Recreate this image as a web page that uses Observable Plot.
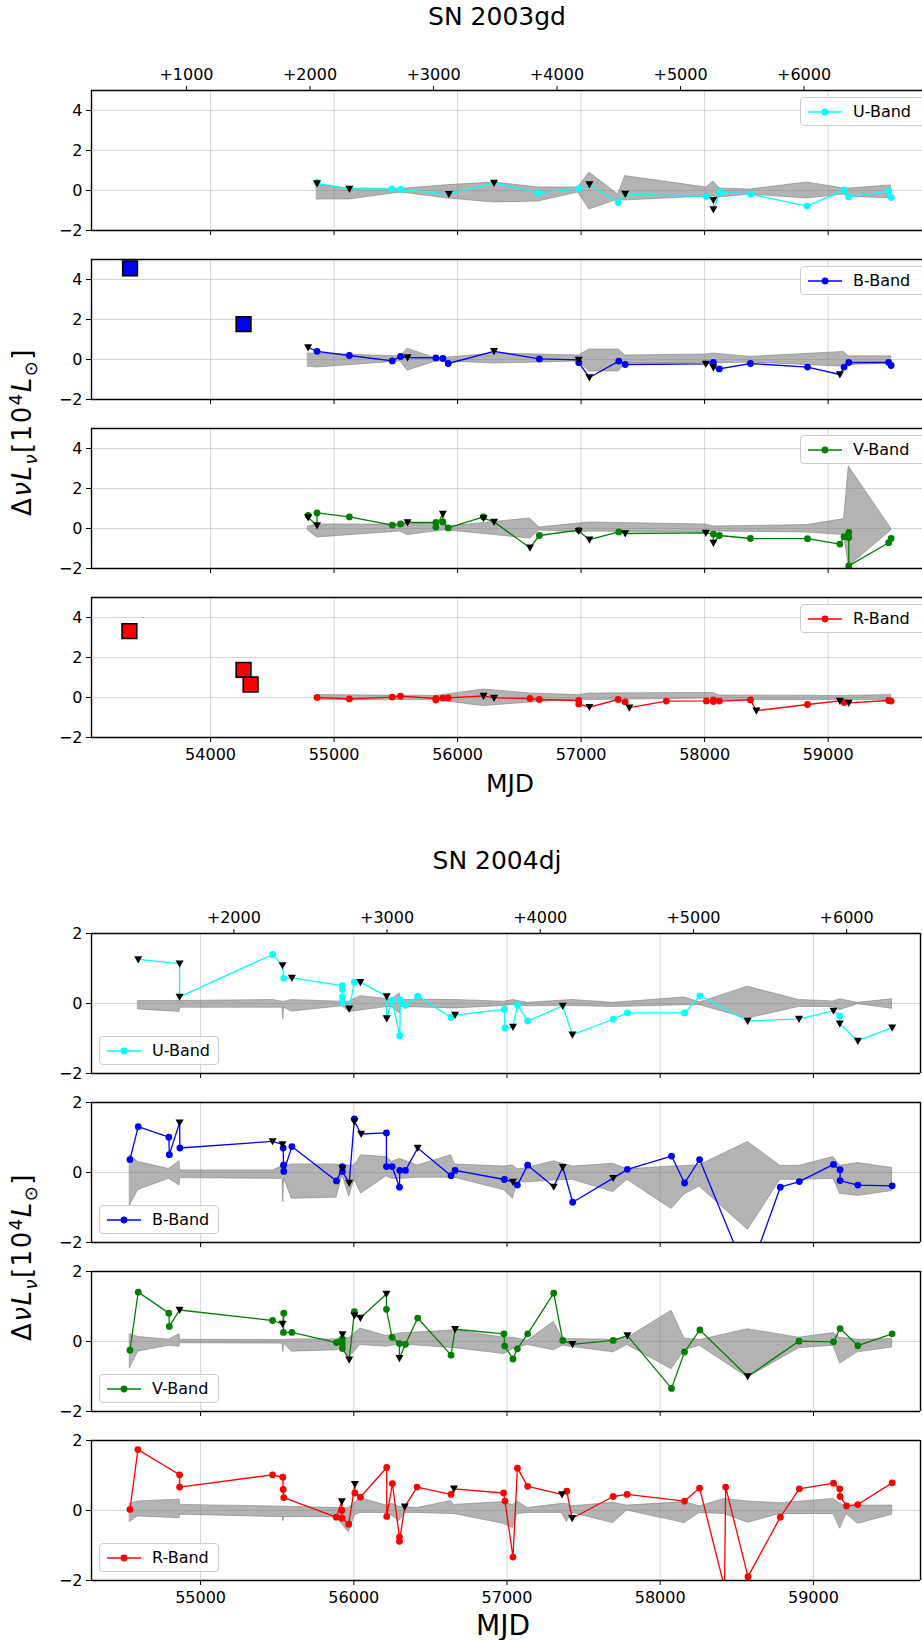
<!DOCTYPE html>
<html>
<head>
<meta charset="utf-8">
<script src="https://cdn.jsdelivr.net/npm/d3@7"></script>
<script src="https://cdn.jsdelivr.net/npm/@observablehq/plot@0.6"></script>
<style>
  body { margin: 0; background: #fff; }
  #fig { position: relative; width: 922px; height: 1640px; overflow: hidden; font-family: "DejaVu Sans", sans-serif; color: #000; }
  .panel { position: absolute; left: 0; }
  .title { position: absolute; transform: translate(-50%, -50%); white-space: nowrap; }
  .ylab { position: absolute; transform: translate(-50%, -50%) rotate(-90deg); white-space: nowrap; font-size: 26px; letter-spacing: 1.5px; }
  .ylab sub, .ylab sup { font-size: 18px; }
  .legend { position: absolute; border: 1px solid #cccccc; border-radius: 4px; background: rgba(255,255,255,0.8); display: flex; align-items: center; font-size: 16px; box-sizing: border-box; }
  .legend svg { display: block; margin: 0 10px 0 6px; }
</style>
</head>
<body>
<div id="fig"></div>
<script>
// ---------- SN 2003gd: [MJD, ΔνLν (1e4 Lsun), upper limit 0/1] ----------
const gdU = [
  [54862, 0.42, 0], [54862, 0.35, 1], [55124, 0.08, 1], [55467, 0.08, 0], [55538, 0.05, 0],
  [55929, -0.18, 1], [56295, 0.38, 1], [56652, -0.12, 0], [56976, 0.08, 0], [57067, 0.3, 1],
  [57300, -0.6, 0], [57357, -0.17, 1], [58014, -0.3, 0], [58071, -0.48, 1], [58071, -0.95, 1],
  [58124, -0.1, 0], [58371, -0.18, 0], [58829, -0.78, 0], [59129, 0.03, 0], [59167, -0.32, 0],
  [59490, -0.03, 0], [59510, -0.35, 0]
];
const gdUband = [
  [54862, -0.45, 0.27], [55124, -0.45, 0.1], [55538, -0.1, 0.08], [55929, -0.4, 0.27],
  [56295, -0.6, 0.4], [56652, -0.55, 0.15], [56976, -0.1, 0.15], [57067, -0.95, 0.9],
  [57300, -0.45, -0.2], [57357, -0.5, 0.72], [58014, -0.3, 0.15], [58071, -0.3, 0.45],
  [58124, -0.35, 0.1], [58371, -0.2, 0.05], [58829, -0.4, 0.4], [59129, -0.2, 0.1],
  [59167, -0.3, 0.1], [59510, -0.4, 0.25]
];
const gdB = [
  [54790, 0.6, 1], [54862, 0.41, 0], [55124, 0.2, 0], [55471, -0.07, 0], [55538, 0.15, 0],
  [55595, 0.1, 1], [55824, 0.08, 0], [55881, 0.05, 0], [55924, -0.2, 0], [56295, 0.41, 1],
  [56662, 0.03, 0], [56981, -0.02, 1], [56981, -0.16, 0], [57067, -0.9, 1], [57305, -0.08, 0],
  [57357, -0.25, 0], [58010, -0.22, 1], [58071, -0.15, 0], [58071, -0.4, 1], [58119, -0.47, 0],
  [58371, -0.2, 0], [58833, -0.38, 0], [59095, -0.75, 1], [59129, -0.38, 0], [59167, -0.15, 0],
  [59490, -0.15, 0], [59510, -0.3, 0]
];
const gdBband = [
  [54790, -0.36, 0.3], [54862, -0.4, 0.3], [55538, -0.1, 0.15], [55595, -0.56, 0.54],
  [55824, -0.1, 0.05], [55924, -0.1, 0.1], [56295, -0.2, 0.3], [56981, -0.1, 0.2],
  [57067, -0.6, 0.5], [57305, -0.6, 0.5], [57357, -0.2, 0.2], [58010, -0.2, 0.25],
  [58071, -0.2, 0.3], [58371, -0.15, 0.13], [59129, -0.36, 0.38], [59167, -0.28, 0.16],
  [59510, -0.2, 0.16]
];
const gdBpre = [[53348, 4.56], [54267, 1.77]];
const gdV = [
  [54790, 0.65, 0], [54790, 0.55, 1], [54862, 0.15, 1], [54862, 0.78, 0], [55124, 0.58, 0],
  [55471, 0.17, 0], [55538, 0.23, 0], [55595, 0.3, 1], [55824, 0.3, 0], [55824, 0.07, 0],
  [55881, 0.73, 1], [55881, 0.33, 0], [55924, 0.03, 0], [56210, 0.58, 0], [56210, 0.52, 1],
  [56295, 0.33, 1], [56586, -0.96, 1], [56662, -0.35, 0], [56981, -0.08, 0], [56981, -0.13, 1],
  [57067, -0.56, 1], [57305, -0.17, 0], [57357, -0.25, 1], [58010, -0.22, 1], [58071, -0.28, 0],
  [58071, -0.72, 1], [58119, -0.35, 0], [58371, -0.5, 0], [58833, -0.51, 0], [59095, -0.78, 0],
  [59129, -0.41, 0], [59167, -0.2, 0], [59167, -0.45, 0], [59167, -1.87, 0], [59490, -0.71, 0],
  [59510, -0.5, 0]
];
const gdVband = [
  [54790, -0.1, 0.1], [54862, -0.45, 0.2], [55538, -0.15, 0.2], [55595, -0.33, 0.2],
  [55881, -0.1, 0.3], [55924, -0.1, 0.1], [56586, -0.5, 0.5], [56662, -0.1, 0.05],
  [56981, -0.2, 0.25], [57067, -0.15, 0.3], [58010, -0.2, 0.2], [58071, -0.15, 0.1],
  [58833, -0.2, 0.17], [59129, -0.33, 0.47], [59167, -1.9, 3.1], [59510, -0.1, 0.0]
];
const gdR = [
  [54862, 0.0, 0], [55124, -0.07, 0], [55471, 0.02, 0], [55538, 0.07, 0], [55824, -0.05, 0],
  [55824, -0.13, 0], [55881, -0.03, 0], [55924, -0.02, 0], [56210, 0.08, 1], [56295, -0.02, 1],
  [56586, -0.05, 0], [56662, -0.1, 0], [56981, -0.15, 0], [56981, -0.32, 0], [57067, -0.48, 1],
  [57300, -0.1, 0], [57357, -0.22, 0], [57390, -0.51, 1], [57690, -0.18, 0], [58014, -0.17, 0],
  [58071, -0.12, 0], [58071, -0.2, 0], [58119, -0.18, 0], [58371, -0.12, 0], [58419, -0.66, 1],
  [58833, -0.35, 0], [59095, -0.17, 1], [59129, -0.25, 0], [59167, -0.27, 1], [59490, -0.15, 0],
  [59510, -0.18, 0]
];
const gdRband = [
  [54862, -0.13, 0.12], [55824, -0.13, 0.08], [56210, -0.43, 0.4], [56586, -0.25, 0.2],
  [56981, -0.1, 0.12], [57067, -0.13, 0.2], [58071, -0.05, 0.23], [58119, -0.12, 0.1],
  [59129, -0.13, 0.08], [59510, -0.13, 0.12]
];
const gdRpre = [[53343, 3.32], [54267, 1.38], [54324, 0.65]];

// ---------- SN 2004dj ----------
const djU = [
  [54593, 1.26, 1], [54863, 1.14, 1], [54863, 0.19, 1], [55470, 1.4, 0], [55535, 1.09, 1],
  [55543, 0.72, 0], [55596, 0.73, 1], [55926, 0.51, 0], [55926, 0.4, 0], [55926, 0.19, 0],
  [55924, 0.05, 0], [55970, -0.15, 1], [56004, 0.61, 0], [56043, 0.61, 1], [56215, 0.2, 1],
  [56215, -0.43, 1], [56250, 0.09, 0], [56300, -0.92, 0], [56304, 0.1, 0], [56337, -0.05, 0],
  [56417, 0.21, 0], [56635, -0.4, 0], [56661, -0.33, 1], [56983, -0.17, 0], [56987, -0.7, 0],
  [57039, -0.67, 1], [57068, -0.04, 0], [57135, -0.5, 0], [57364, -0.07, 1], [57427, -0.89, 1],
  [57693, -0.45, 0], [57786, -0.27, 0], [58159, -0.27, 0], [58259, 0.22, 0], [58571, -0.5, 1],
  [58906, -0.44, 1], [59131, -0.21, 1], [59172, -0.36, 0], [59172, -0.58, 1], [59290, -1.07, 1],
  [59514, -0.69, 1]
];
const djUband = [
  [54593, -0.17, 0.07], [54863, -0.24, 0.07], [54866, -0.12, 0.07], [55470, -0.12, 0.1],
  [55535, -0.12, 0.05], [55540, -0.45, 0.05], [55545, -0.12, 0.05], [55596, -0.23, 0.1],
  [55926, -0.08, 0.05], [55970, -0.24, 0.05], [56043, -0.2, 0.21], [56215, -0.1, 0.13],
  [56250, -0.1, 0.13], [56300, -0.29, 0.29], [56304, -0.1, 0.1], [56661, -0.14, 0.1],
  [56983, -0.07, 0.05], [57039, -0.04, 0.1], [57135, -0.08, 0.02], [57427, -0.07, 0.1],
  [57693, -0.1, 0.02], [58159, -0.05, 0.17], [58259, -0.05, 0.03], [58571, -0.43, 0.48],
  [58906, -0.1, 0.1], [59131, -0.1, 0.06], [59172, -0.19, 0.12], [59290, -0.02, 0.02],
  [59514, -0.15, 0.12]
];
const djB = [
  [54539, 0.37, 0], [54593, 1.31, 0], [54793, 1.01, 0], [54796, 0.51, 0], [54863, 1.42, 1],
  [54865, 0.7, 0], [55470, 0.89, 1], [55535, 0.8, 1], [55539, 0.7, 0], [55541, 0.21, 0],
  [55543, 0.03, 0], [55596, 0.74, 0], [55887, -0.24, 0], [55926, 0.12, 1], [55926, 0.17, 0],
  [55926, 0.03, 0], [55970, -0.3, 1], [56004, 1.53, 0], [56004, 1.46, 1], [56048, 1.1, 1],
  [56213, 1.13, 0], [56213, 0.17, 0], [56250, 0.17, 0], [56298, -0.42, 0], [56300, 0.06, 0],
  [56337, 0.06, 0], [56417, 0.7, 1], [56635, -0.09, 0], [56661, 0.06, 0], [56983, -0.2, 0],
  [57039, -0.27, 1], [57068, -0.36, 0], [57135, 0.21, 0], [57305, -0.41, 1], [57364, 0.15, 1],
  [57429, -0.85, 0], [57693, -0.16, 1], [57786, 0.09, 0], [58074, 0.47, 0], [58159, -0.3, 0],
  [58257, 0.37, 0], [58573, -3.0, 0], [58784, -0.42, 0], [58908, -0.26, 0], [59131, 0.23, 0],
  [59174, 0.08, 0], [59174, -0.23, 0], [59290, -0.36, 0], [59514, -0.38, 0]
];
const djBband = [
  [54539, -0.94, 0.49], [54593, -0.5, 0.3], [54793, -0.18, 0.1], [54863, -0.37, 0.32],
  [54866, -0.16, 0.06], [55470, -0.18, 0.06], [55535, -0.18, 0.18], [55540, -0.85, 0.18],
  [55545, -0.18, 0.18], [55596, -0.75, 0.23], [55887, -0.72, 0.23], [55926, -0.08, 0.2],
  [55970, -0.69, 0.2], [56004, -0.2, 0.2], [56048, -0.6, 0.49], [56213, -0.11, 0.44],
  [56250, -0.18, 0.3], [56300, -0.18, 0.39], [56417, -0.15, 0.2], [56635, -0.15, 0.49],
  [56661, -0.15, 0.23], [56983, -0.51, 0.17], [57039, -0.75, 0.2], [57068, -0.28, 0.09],
  [57135, -0.28, 0.13], [57305, -0.23, 0.32], [57429, -0.21, 0.17], [57693, -0.56, 0.25],
  [57786, -0.21, 0.09], [58074, -1.04, 0.17], [58159, -0.63, 0.18], [58257, -0.4, 0.21],
  [58573, -1.64, 0.87], [58784, -0.21, 0.19], [58908, -0.21, 0.19], [59131, -0.18, 0.44],
  [59174, -0.61, 0.19], [59290, -0.67, 0.27], [59514, -0.53, 0.13]
];
const djV = [
  [54539, -0.25, 0], [54593, 1.41, 0], [54793, 0.81, 0], [54796, 0.43, 0], [54863, 0.9, 1],
  [55470, 0.6, 0], [55535, 0.5, 1], [55543, 0.81, 0], [55541, 0.26, 0], [55596, 0.26, 0],
  [55887, -0.03, 0], [55926, 0.2, 1], [55926, 0.07, 0], [55926, -0.06, 0], [55926, -0.2, 0],
  [55970, -0.52, 1], [56004, 0.85, 0], [56004, 0.74, 1], [56043, 0.67, 1], [56213, 1.36, 1],
  [56213, 0.92, 0], [56250, 0.12, 0], [56298, -0.06, 0], [56298, -0.48, 1], [56337, -0.08, 0],
  [56417, 0.67, 0], [56635, -0.39, 0], [56661, 0.35, 1], [56980, 0.22, 0], [56985, -0.13, 0],
  [57039, -0.5, 0], [57068, -0.21, 0], [57135, 0.22, 0], [57305, 1.38, 0], [57364, 0.03, 0],
  [57427, -0.08, 1], [57693, 0.03, 0], [57786, 0.17, 1], [58074, -1.34, 0], [58159, -0.3, 0],
  [58259, 0.33, 0], [58571, -1.0, 1], [58906, 0.01, 0], [59131, -0.01, 0], [59174, 0.37, 0],
  [59290, -0.12, 0], [59514, 0.22, 0]
];
const djVband = [
  [54539, -0.76, 0.21], [54593, -0.29, 0.13], [54793, -0.12, 0.05], [54863, -0.15, 0.21],
  [54866, -0.05, 0.05], [55470, -0.06, 0.04], [55535, -0.06, 0.04], [55540, -0.3, 0.04],
  [55545, -0.06, 0.04], [55596, -0.29, 0.06], [55887, -0.25, 0.06], [55926, -0.19, 0.11],
  [55970, -0.46, 0.1], [56043, -0.1, 0.37], [56213, -0.15, 0.16], [56298, -0.08, 0.23],
  [56661, -0.19, 0.32], [56983, -0.36, 0.11], [57039, -0.22, 0.11], [57135, -0.1, 0.02],
  [57305, -0.25, 0.56], [57364, -0.12, 0.07], [57693, -0.31, 0.05], [57786, -0.1, 0.1],
  [58074, -0.79, 0.88], [58159, -0.25, 0.08], [58259, -0.12, 0.04], [58571, -1.03, 0.35],
  [58906, -0.19, 0.11], [59131, -0.12, 0.24], [59174, -0.63, 0.11], [59290, -0.31, 0.05],
  [59514, -0.17, 0.07]
];
const djR = [
  [54539, 0.03, 0], [54591, 1.74, 0], [54863, 1.02, 0], [54863, 0.67, 0], [55470, 1.02, 0],
  [55537, 0.95, 0], [55539, 0.6, 0], [55543, 0.37, 0], [55885, -0.19, 0], [55922, 0.26, 1],
  [55922, 0.0, 0], [55924, -0.22, 0], [55967, -0.39, 0], [56007, 0.75, 1], [56007, 0.5, 0],
  [56043, 0.38, 0], [56215, 1.23, 0], [56215, -0.17, 0], [56252, 0.77, 0], [56298, -0.76, 0],
  [56298, -0.88, 0], [56333, 0.11, 1], [56413, 0.67, 0], [56635, 0.46, 0], [56654, 0.62, 1],
  [56978, 0.5, 0], [56987, 0.27, 0], [57039, -1.33, 0], [57068, 1.21, 0], [57135, 0.69, 0],
  [57359, 0.46, 1], [57390, 0.55, 0], [57425, -0.22, 1], [57693, 0.4, 0], [57784, 0.46, 0],
  [58159, 0.27, 0], [58257, 0.64, 0], [58420, -2.2, 0], [58427, 0.67, 0], [58573, -1.89, 0],
  [58784, -0.19, 0], [58908, 0.62, 0], [59131, 0.78, 0], [59172, 0.62, 0], [59174, 0.4, 0],
  [59216, 0.13, 0], [59290, 0.17, 0], [59514, 0.79, 0]
];
const djRband = [
  [54539, -0.33, 0.19], [54591, -0.17, 0.26], [54863, -0.22, 0.31], [54866, -0.12, 0.16],
  [55537, -0.19, 0.11], [55540, -0.3, 0.11], [55545, -0.19, 0.11], [55885, -0.19, 0.07],
  [55967, -0.62, 0.07], [56007, -0.14, 0.22], [56043, -0.07, 0.35], [56215, -0.07, 0.14],
  [56252, -0.16, 0.19], [56298, -0.3, 0.1], [56333, -0.07, 0.1], [56413, -0.07, 0.07],
  [56635, -0.1, 0.27], [56654, -0.1, 0.16], [56978, -0.38, 0.24], [57039, -0.5, 0.15],
  [57068, -0.1, 0.26], [57135, -0.07, 0.07], [57359, -0.07, 0.19], [57390, -0.33, 0.19],
  [57425, -0.07, 0.12], [57693, -0.36, 0.22], [57784, 0.0, 0.14], [58159, -0.36, 0.24],
  [58257, -0.07, 0.12], [58420, -0.1, 0.33], [58573, -0.35, 0.26], [58784, -0.1, 0.21],
  [59131, -0.1, 0.33], [59174, -0.52, 0.2], [59216, -0.1, 0.1], [59290, -0.38, 0.14],
  [59514, -0.12, 0.14]
];

// ---------- figure settings ----------
const bandNames = ["U-Band", "B-Band", "V-Band", "R-Band"];
const bandColors = ["#00ffff", "#0000ff", "#008000", "#ff0000"];

const figures = [
  {
    name: "SN 2003gd", t0: 52805, domain: [53036, 59764], yDomain: [-2, 5], yTicks: [-2, 0, 2, 4],
    xTicks: [54000, 55000, 56000, 57000, 58000, 59000], sinceTicks: [1000, 2000, 3000, 4000, 5000, 6000],
    frameTops: [90, 259, 428, 597], marginRight: 0, legend: "right",
    series: [gdU, gdB, gdV, gdR], bands: [gdUband, gdBband, gdVband, gdRband], pre: [null, gdBpre, null, gdRpre],
    titleY: 16, titleX: 497, mjdY: 783, mjdX: 510, ylabY: 432, mjdSize: 25
  },
  {
    name: "SN 2004dj", t0: 53217, domain: [54288, 59699], yDomain: [-2, 2], yTicks: [-2, 0, 2],
    xTicks: [55000, 56000, 57000, 58000, 59000], sinceTicks: [2000, 3000, 4000, 5000, 6000],
    frameTops: [933, 1102, 1271, 1440], marginRight: 2, legend: "left",
    series: [djU, djB, djV, djR], bands: [djUband, djBband, djVband, djRband], pre: [null, null, null, null],
    titleY: 860, titleX: 497, mjdY: 1625, mjdX: 503, ylabY: 1257, mjdSize: 28
  }
];

const PANEL_H = 140, M = 45;
const minus = d => (d < 0 ? "\u2212" + Math.abs(d) : String(d));
const triDown = {
  draw(ctx, size) {
    const r = Math.sqrt(size / Math.PI);
    ctx.moveTo(-r, -r * 0.8);
    ctx.lineTo(r, -r * 0.8);
    ctx.lineTo(0, r);
    ctx.closePath();
  }
};
const gridStyle = { stroke: "#b0b0b0", strokeOpacity: 0.55, strokeWidth: 1 };
const fig = document.getElementById("fig");

function addDiv(cls, text, x, y, extra) {
  const el = document.createElement("div");
  el.className = cls;
  el.textContent = text;
  el.style.left = x + "px";
  el.style.top = y + "px";
  Object.assign(el.style, extra || {});
  fig.appendChild(el);
  return el;
}

figures.forEach(F => {
  F.series.forEach((pts, k) => {
    const color = bandColors[k];
    const first = k === 0, last = k === 3;
    const det = pts.filter(p => !p[2]);
    const lim = pts.filter(p => p[2]);
    const marks = [
      Plot.gridX(F.xTicks, gridStyle),
      Plot.gridY(F.yTicks, gridStyle),
      Plot.areaY(F.bands[k], { x: d => d[0], y1: d => d[1], y2: d => d[2], fill: "gray", fillOpacity: 0.6, stroke: "gray", strokeOpacity: 0.6, strokeWidth: 1, clip: true }),
      Plot.line(pts, { x: d => d[0], y: d => d[1], stroke: color, strokeWidth: 1.3, clip: true }),
      Plot.dot(det, { x: d => d[0], y: d => d[1], r: 3.4, fill: color, stroke: null, clip: true }),
      Plot.dot(lim, { x: d => d[0], y: d => d[1], r: 4, symbol: triDown, fill: "black", stroke: null, clip: true }),
      Plot.ruleY([F.yDomain[0]], { stroke: "black", strokeWidth: 1.4 }),
      Plot.ruleY([F.yDomain[1]], { stroke: "black", strokeWidth: 1.4 }),
      Plot.ruleX([F.domain[0]], { stroke: "black", strokeWidth: 1.4 }),
      Plot.axisY(F.yTicks, { anchor: "left", tickSize: 5, tickPadding: 4, tickFormat: minus, fontSize: 16, label: null }),
      Plot.axisX(F.xTicks, { anchor: "bottom", tickSize: 5, tickPadding: 6, tickFormat: last ? String : () => "", fontSize: 16, label: null })
    ];
    if (F.marginRight > 0) marks.push(Plot.ruleX([F.domain[1]], { stroke: "black", strokeWidth: 1.4 }));
    if (first) {
      marks.push(Plot.axisX(F.sinceTicks.map(d => d + F.t0), { anchor: "top", tickSize: 5, tickPadding: 6, tickFormat: d => "+" + (d - F.t0), fontSize: 16, label: null }));
    }
    if (F.pre[k]) {
      marks.push(Plot.dot(F.pre[k], { x: d => d[0], y: d => d[1], symbol: "square", r: 8.3, fill: color, stroke: "black", strokeWidth: 1.6 }));
    }
    const chart = Plot.plot({
      width: 922, height: PANEL_H + 2 * M,
      marginTop: M, marginBottom: M, marginLeft: 91, marginRight: F.marginRight,
      x: { domain: F.domain, label: null },
      y: { domain: F.yDomain, label: null },
      style: { background: "transparent", fontFamily: "DejaVu Sans, sans-serif", fontSize: "16px", color: "black", overflow: "visible" },
      marks
    });
    const wrap = document.createElement("div");
    wrap.className = "panel";
    wrap.style.top = (F.frameTops[k] - M) + "px";
    wrap.appendChild(chart);
    fig.appendChild(wrap);

    // legend box with a line + marker swatch
    const lg = document.createElement("div");
    lg.className = "legend";
    lg.style.height = "29px";
    if (F.legend === "right") {
      lg.style.left = "800px";
      lg.style.top = (F.frameTops[k] + 7) + "px";
      lg.style.width = "130px";
    } else {
      lg.style.left = "99px";
      lg.style.top = (F.frameTops[k] + PANEL_H - 37) + "px";
      lg.style.width = "120px";
    }
    lg.innerHTML = `<svg width="36" height="12"><line x1="1" y1="6" x2="35" y2="6" stroke="${color}" stroke-width="1.3"/><circle cx="18" cy="6" r="3.4" fill="${color}"/></svg><span>${bandNames[k]}</span>`;
    fig.appendChild(lg);
  });

  addDiv("title", F.name, F.titleX, F.titleY, { fontSize: "25px" });
  addDiv("title", "MJD", F.mjdX, F.mjdY, { fontSize: F.mjdSize + "px" });
  const yl = addDiv("ylab", "", 23, F.ylabY);
  yl.innerHTML = 'Δ<i>ν</i><i>L</i><sub><i>ν</i></sub>[10<sup>4</sup><i>L</i><sub>⊙</sub>]';
});
</script>
</body>
</html>
